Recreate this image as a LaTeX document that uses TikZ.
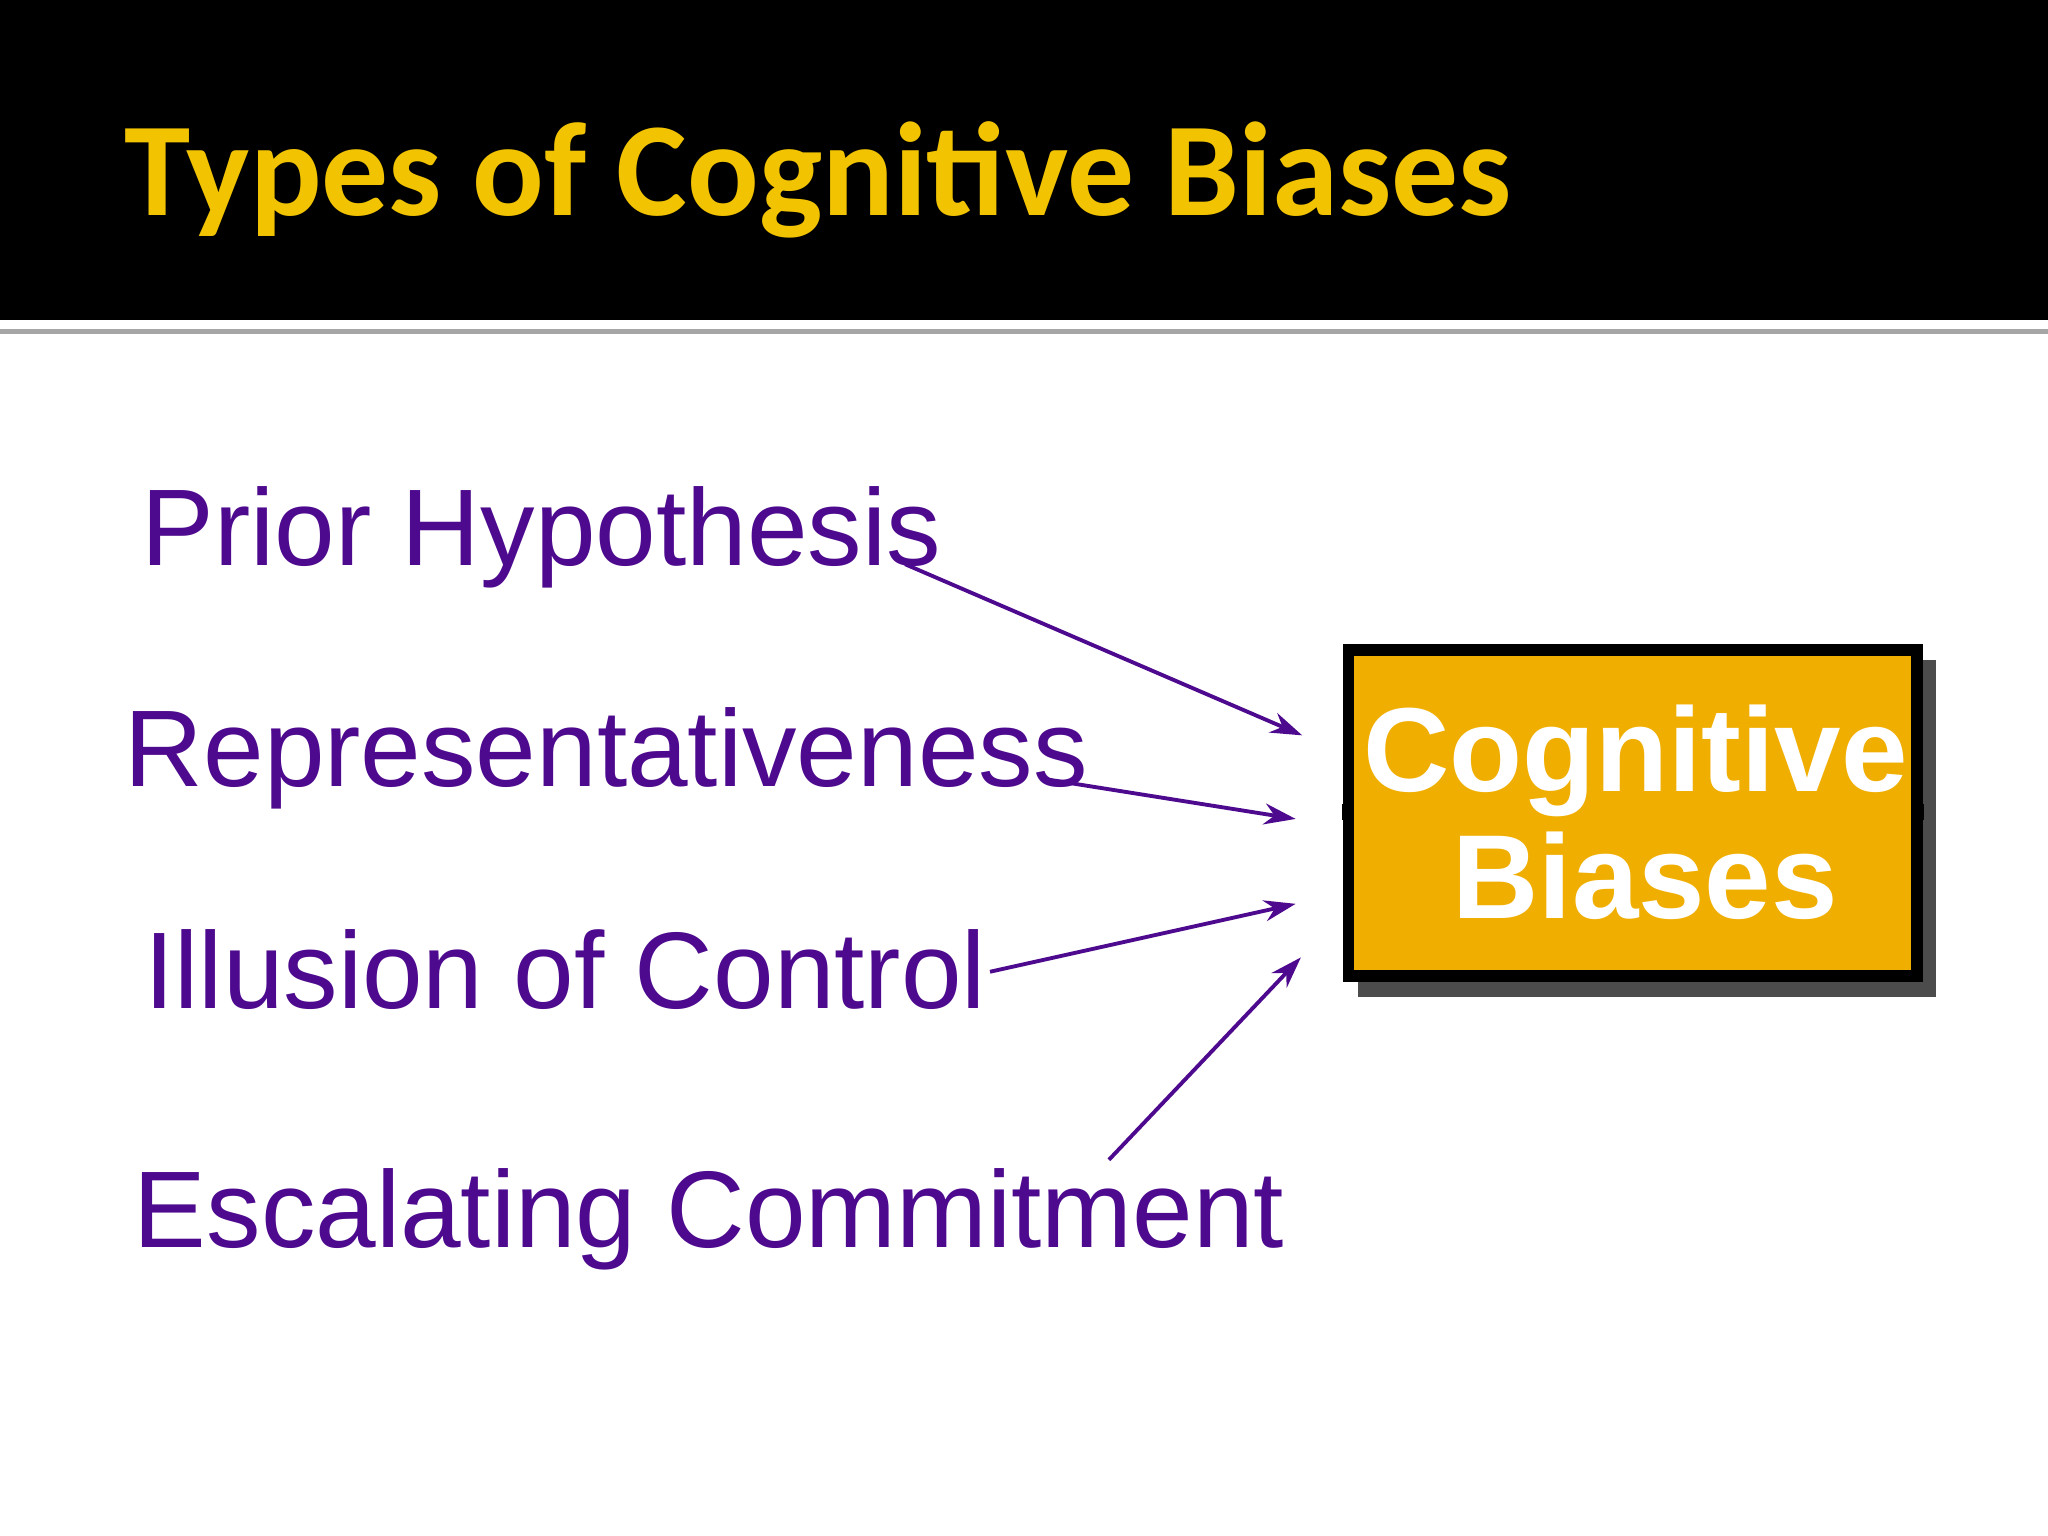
\documentclass[tikz,border=0pt]{standalone}
\usepackage{fontspec}
\setmainfont{Liberation Sans}
\newfontfamily\titlefont{Carlito}
\usetikzlibrary{arrows.meta}
\definecolor{purp}{HTML}{4E0A8E}
\definecolor{ttl}{HTML}{F2C300}
\definecolor{boxc}{HTML}{F0AE00}
\begin{document}
\begin{tikzpicture}[x=0.01306cm,y=-0.01306cm,
  lbl/.style={anchor=base west,inner sep=0,text=purp,font=\fontsize{31}{36}\selectfont},
  arr/.style={draw=purp,line width=1.1pt,-{Stealth[length=9pt,width=6pt]}}]
\useasboundingbox (0,0) rectangle (1568,1176);
\fill[white] (0,0) rectangle (1568,1176);
\fill[black] (0,0) rectangle (1568,245);
\fill[gray!70] (0,252) rectangle (1568,256);
\node[anchor=base west,inner sep=0,text=ttl,font=\titlefont\bfseries\fontsize{38}{44}\selectfont] (title) at (95,165) {Types of Cognitive Biases};
\node[lbl] (p) at (108,433) {Prior Hypothesis};
\node[lbl] (r) at (95,602) {Representativeness};
\node[lbl] (i) at (110,772) {Illusion of Control};
\node[lbl] (e) at (102,955) {Escalating Commitment};
\fill[black!70] (1040,505) rectangle (1482,763);
\node[draw=black,line width=3.5pt,fill=boxc,minimum width=436\pgflinewidth/3.5pt*0.01306cm,inner sep=0] (box) at (1250,622) {};
\fill[black] (1028,493) rectangle (1472,752);
\fill[boxc] (1037,502) rectangle (1463,743);
\node[align=center,text=white,font=\bfseries\fontsize{34}{40}\selectfont,inner sep=0] (bt) at (1252,622) {Cognitive\\[-4pt]\,Biases};
\coordinate (a1) at (693,432); \coordinate (b1) at (997,563);
\coordinate (a2) at (797,596); \coordinate (b2) at (992,627);
\coordinate (a3) at (758,744); \coordinate (b3) at (992,692);
\coordinate (a4) at (849,888); \coordinate (b4) at (996,733);
\draw[arr] (a1) -- (b1);
\draw[arr] (a2) -- (b2);
\draw[arr] (a3) -- (b3);
\draw[arr] (a4) -- (b4);
\end{tikzpicture}
\end{document}
